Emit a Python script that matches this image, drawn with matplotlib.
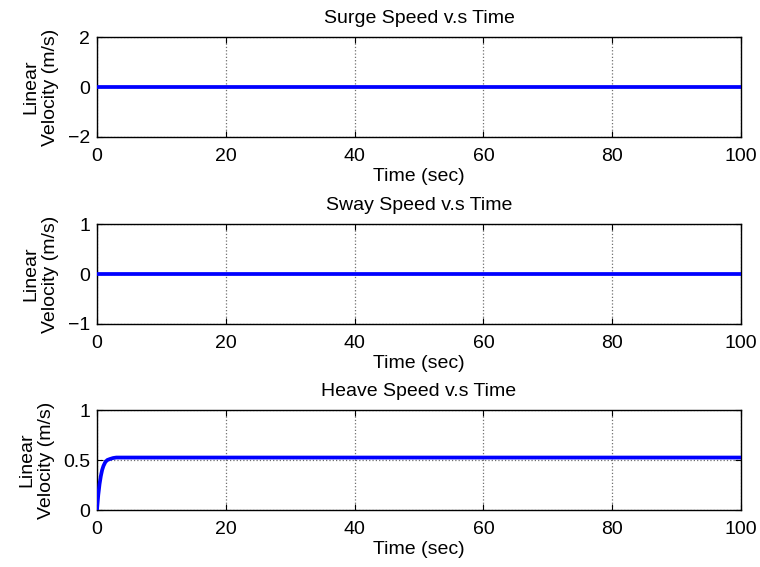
import matplotlib
matplotlib.use("Agg")
import matplotlib.pyplot as plt

plt.rcParams['font.family'] = ['Liberation Sans', 'DejaVu Sans']

titles = ["Surge Speed v.s Time", "Sway Speed v.s Time", "Heave Speed v.s Time"]
xlabel = "Time (sec)"
ylabel = "Linear\nVelocity (m/s)"

surge_t = [0, 100]
surge_v = [0, 0]
sway_t = [0, 100]
sway_v = [0, 0]
heave_t = [0, 0.2, 0.4, 0.6, 0.8, 1.0, 1.3, 1.6, 2.0, 2.5, 3.0, 4.0, 100]
heave_v = [0, 0.15, 0.26, 0.34, 0.40, 0.44, 0.48, 0.50, 0.51, 0.52, 0.525, 0.525, 0.525]

ylims = [(-2, 2), (-1, 1), (0, 1)]
yticks = [[-2, 0, 2], [-1, 0, 1], [0, 0.5, 1]]
yticklabels = [["\u22122", "0", "2"], ["\u22121", "0", "1"], ["0", "0.5", "1"]]
xticks = [0, 20, 40, 60, 80, 100]

fig = plt.figure(figsize=(7.6, 5.67), dpi=100)
left, width = 0.1276, 0.8474
bottoms = [0.7584, 0.4286, 0.1005]
height = 0.1763
series = [(surge_t, surge_v), (sway_t, sway_v), (heave_t, heave_v)]

for i in range(3):
    ax = fig.add_axes([left, bottoms[i], width, height])
    t, v = series[i]
    ax.plot(t, v, color='#0000ff', linewidth=2.7, zorder=3)
    ax.set_xlim(0, 100)
    ax.set_ylim(*ylims[i])
    ax.set_xticks(xticks)
    ax.set_yticks(yticks[i])
    ax.set_yticklabels(yticklabels[i])
    ax.grid(True, linestyle=':', color='#707070', linewidth=0.9)
    ax.tick_params(direction='in', top=True, right=True, labelsize=14, length=4)
    ax.tick_params(axis='x', pad=8)
    ax.tick_params(axis='y', pad=5)
    for s in ax.spines.values():
        s.set_linewidth(1.0)
    ax.set_title(titles[i], fontsize=14, pad=10)
    ax.set_xlabel(xlabel, fontsize=14, labelpad=2)
    ax.set_ylabel(ylabel, fontsize=14, labelpad=6)

fig.savefig("out.png", dpi=100)
